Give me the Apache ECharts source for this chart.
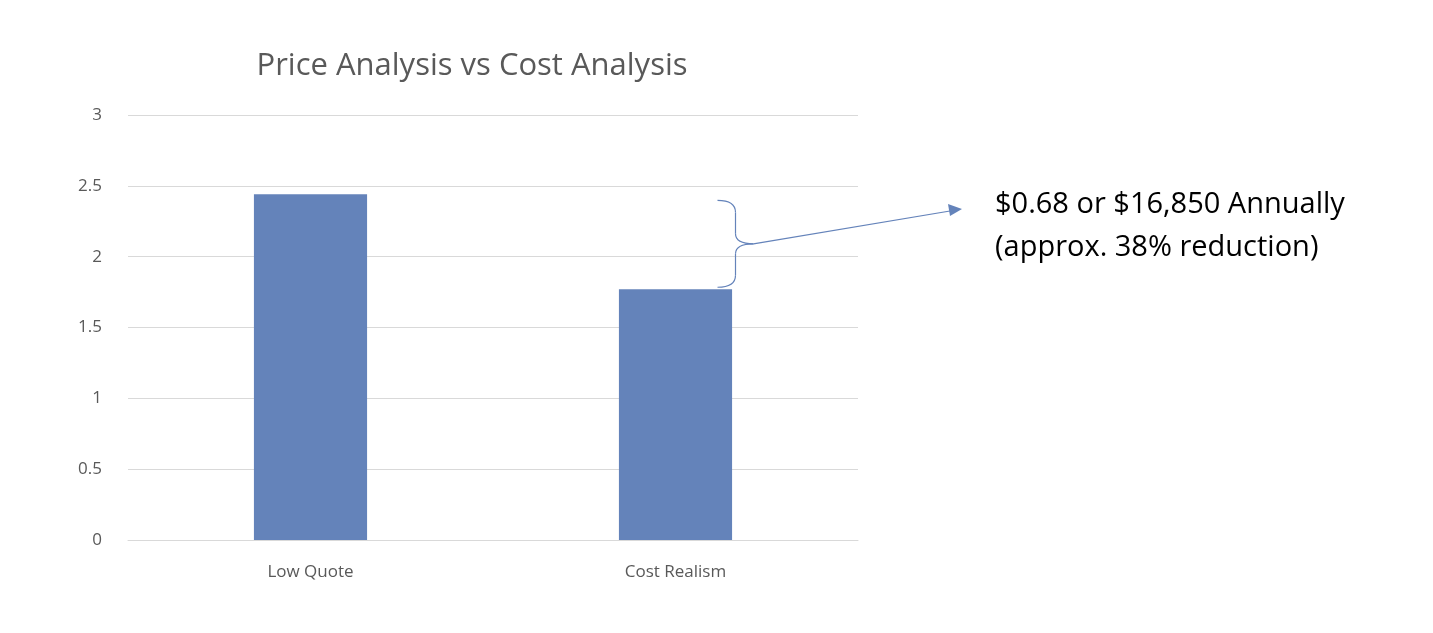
<!DOCTYPE html>
<html><head><meta charset="utf-8">
<script src="https://cdn.jsdelivr.net/npm/echarts@6/dist/echarts.min.js"></script>
<style>html,body{margin:0;padding:0;background:#fff}#c{width:1433px;height:633px}</style>
</head><body><div id="c"></div>
<script>
const categories = ['Low Quote', 'Cost Realism'];
const values = [2.44, 1.77];
const yTicks = [0, 3, 0.5];
const titleText = 'Price Analysis vs Cost Analysis';
const noteLines = ['$0.68 or $16,850 Annually', '(approx. 38% reduction)'];

const chart = echarts.init(document.getElementById('c'));
const font = 'Open Sans, Lato, sans-serif';
chart.setOption({
  animation: false,
  title: { text: titleText, left: 467, top: 46, textAlign: 'center',
    textStyle: { fontFamily: font, fontSize: 31, fontWeight: 'normal', color: '#595959' } },
  grid: { left: 128, right: 1433 - 858, top: 115, bottom: 633 - 540 },
  xAxis: { type: 'category', data: categories,
    axisLine: { lineStyle: { color: '#d9d9d9' } }, axisTick: { show: false },
    axisLabel: { fontFamily: font, fontSize: 17, color: '#595959', margin: 24 } },
  yAxis: { type: 'value', min: yTicks[0], max: yTicks[1], interval: yTicks[2],
    axisLine: { show: false }, axisTick: { show: false },
    splitLine: { lineStyle: { color: '#d9d9d9' } },
    axisLabel: { fontFamily: font, fontSize: 17, color: '#595959', margin: 26 } },
  series: [{ type: 'bar', data: values, barWidth: '31%', itemStyle: { color: '#6483ba' } }]
});
const pTop = chart.convertToPixel({ gridIndex: 0 }, [1, values[0]]);
const pBot = chart.convertToPixel({ gridIndex: 0 }, [1, values[1]]);
const x0 = pBot[0] + 60, y1 = pTop[1] + 6, y2 = pBot[1] - 2, ym = (y1 + y2) / 2;
const st = { fill: null, stroke: '#6483ba', lineWidth: 1.2 };
chart.setOption({ graphic: [
  { type: 'bezierCurve', shape: { x1: x0 - 18, y1: y1, cpx1: x0, cpy1: y1, x2: x0, y2: y1 + 12 }, style: st },
  { type: 'line', shape: { x1: x0, y1: y1 + 12, x2: x0, y2: ym - 10 }, style: st },
  { type: 'bezierCurve', shape: { x1: x0, y1: ym - 10, cpx1: x0, cpy1: ym, x2: x0 + 18, y2: ym }, style: st },
  { type: 'bezierCurve', shape: { x1: x0 + 18, y1: ym, cpx1: x0, cpy1: ym, x2: x0, y2: ym + 10 }, style: st },
  { type: 'line', shape: { x1: x0, y1: ym + 10, x2: x0, y2: y2 - 12 }, style: st },
  { type: 'bezierCurve', shape: { x1: x0, y1: y2 - 12, cpx1: x0, cpy1: y2, x2: x0 - 18, y2: y2 }, style: st },
  { type: 'line', shape: { x1: x0 + 18, y1: ym, x2: 950, y2: 211 }, style: st },
  { type: 'polygon', shape: { points: [[962, 209], [948, 204], [950, 216]] }, style: { fill: '#6483ba' } },
  { type: 'text', left: 995, top: 190, style: { text: noteLines[0], fontFamily: font, fontSize: 29, fill: '#000' } },
  { type: 'text', left: 995, top: 233, style: { text: noteLines[1], fontFamily: font, fontSize: 29, fill: '#000' } }
]});
</script></body></html>
